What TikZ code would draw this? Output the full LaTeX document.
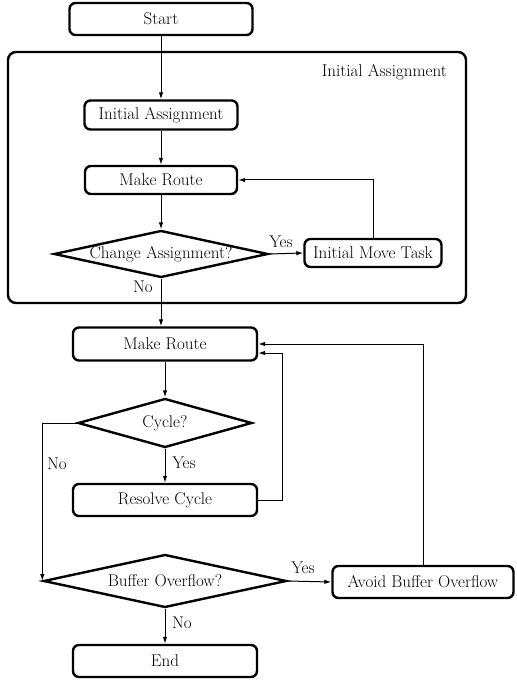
\documentclass[tikz,border=0pt]{standalone}
\usetikzlibrary{shapes.geometric,arrows.meta}
\begin{document}
\begin{tikzpicture}[x=1pt,y=-1pt, font=\fontsize{17}{20}\selectfont,
  box/.style={draw, line width=2.4pt, rounded corners=6pt, inner sep=0pt},
  dia/.style={draw, diamond, line width=2.4pt, inner sep=0pt},
  conn/.style={line width=1pt, -{Latex[length=7pt,width=4.5pt]}},
  lbl/.style={inner sep=0pt}]
\useasboundingbox[fill=white] (0,0) rectangle (516,684);
% frame
\draw[line width=2.4pt, rounded corners=8pt] (8,52) rectangle (466,303);
\node[lbl, anchor=east] (fl) at (447,72) {Initial Assignment};
% nodes
\node[box, minimum width=183pt, minimum height=32pt] (start) at (161,19) {Start};
\node[box, minimum width=153pt, minimum height=29pt] (ia) at (161,115) {Initial Assignment};
\node[box, minimum width=152pt, minimum height=28pt] (mr1) at (161,180) {Make Route};
\node[dia, minimum width=214pt, minimum height=47pt] (ca) at (161,254) {\makebox[0pt]{Change Assignment?}};
\node[box, minimum width=137pt, minimum height=28pt] (imt) at (373,253) {Initial Move Task};
\node[box, minimum width=184pt, minimum height=33pt] (mr2) at (165,344) {Make Route};
\node[dia, minimum width=174pt, minimum height=49pt] (cyc) at (165,423) {\makebox[0pt]{Cycle?}};
\node[box, minimum width=184pt, minimum height=32pt] (rc) at (165,500) {Resolve Cycle};
\node[dia, minimum width=243pt, minimum height=53pt] (bo) at (165,581) {\makebox[0pt]{Buffer Overflow?}};
\node[box, minimum width=181pt, minimum height=32pt] (abo) at (423,582) {Avoid Buffer Overflow};
\node[box, minimum width=184pt, minimum height=32pt] (end) at (165,661) {End};
% labels
\node[lbl] (ly1) at (281,242) {Yes};
\node[lbl] (ln1) at (143,287) {No};
\node[lbl] (ly2) at (184,463) {Yes};
\node[lbl] (ln2) at (57,464) {No};
\node[lbl] (ly3) at (303,568) {Yes};
\node[lbl] (ln3) at (182,623) {No};
% connectors
\draw[conn] (start.south) -- (ia.north);
\draw[conn] (ia.south) -- (mr1.north);
\draw[conn] (mr1.south) -- (ca.north);
\draw[conn] (ca.east) -- (imt.west);
\draw[conn] (imt.north) |- (mr1.east);
\draw[conn] (ca.south) -- (ca.south |- mr2.north);
\draw[conn] (mr2.south) -- (cyc.north);
\draw[conn] (cyc.south) -- (rc.north);
\draw[conn] (cyc.west) -| (bo.west);
\draw[conn] (rc.east) -- ++(24,0) |- ([yshift=-9pt]mr2.east);
\draw[conn] (bo.east) -- (abo.west);
\draw[conn] (abo.north) |- (mr2.east);
\draw[conn] (bo.south) -- (end.north);
\end{tikzpicture}
\end{document}
